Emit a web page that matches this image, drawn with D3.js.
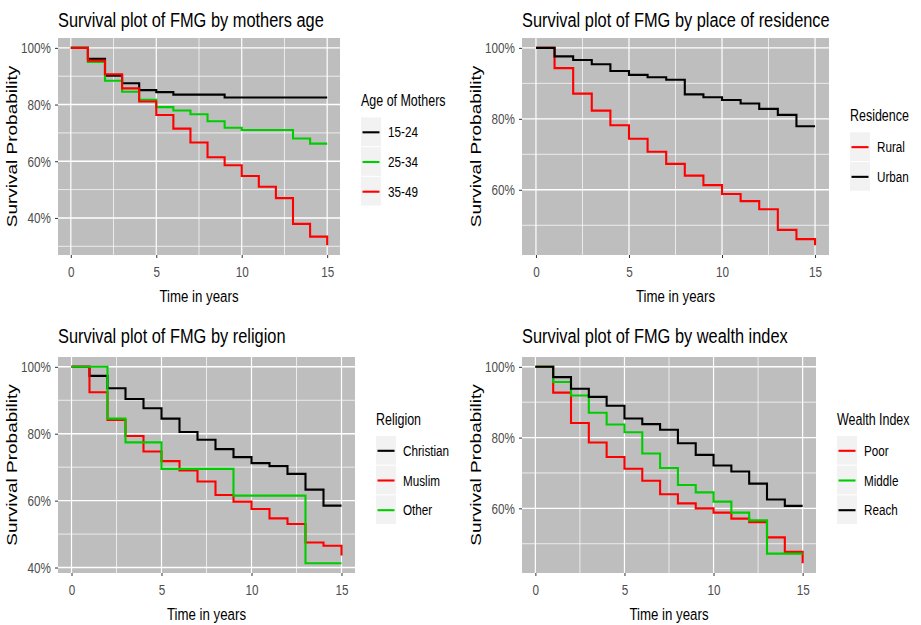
<!DOCTYPE html>
<html>
<head>
<meta charset="utf-8">
<script src="https://cdn.jsdelivr.net/npm/d3@7"></script>
<style>
  body { margin: 0; background: #fff; }
  text { font-family: 'Liberation Sans', Arial, sans-serif; }
</style>
</head>
<body>
<div id="container"></div>
<script>
// time axis (years) - every curve has one value per year, step after
const years = [0, 1, 2, 3, 4, 5, 6, 7, 8, 9, 10, 11, 12, 13, 14, 15];

// survival %, by mothers age
const ageGroups = ['15-24', '25-34', '35-49'];
const age1524 = [100, 96.1, 90.2, 87.5, 85.1, 84.4, 83.5, 83.5, 83.5, 82.5, 82.5, 82.5, 82.5, 82.5, 82.5, 82.5];
const age2534 = [100, 95.0, 88.4, 84.5, 81.7, 79.1, 77.9, 76.6, 74.1, 71.8, 71.0, 71.0, 71.0, 68.0, 66.2, 66.2];
const age3549 = [100, 95.5, 90.7, 85.7, 81.1, 76.3, 71.5, 66.6, 61.4, 58.6, 54.8, 51.0, 47.0, 37.9, 33.4, 30.4];

// by place of residence
const residence = ['Rural', 'Urban'];
const rural = [100, 94.3, 87.1, 82.3, 78.2, 74.4, 70.7, 67.3, 64.0, 61.3, 58.8, 56.8, 54.5, 48.7, 46.1, 44.4];
const urban = [100, 97.6, 96.6, 95.4, 93.5, 92.4, 91.7, 91.0, 86.9, 86.1, 85.3, 84.3, 82.8, 81.1, 77.9, 77.9];

// by religion
const religions = ['Christian', 'Muslim', 'Other'];
const christian = [100, 97.3, 93.6, 90.4, 87.6, 84.5, 80.5, 78.2, 75.4, 73.0, 71.2, 70.3, 68.0, 63.3, 58.5, 58.5];
const muslim = [100, 92.4, 84.1, 79.3, 74.7, 71.8, 69.0, 65.7, 61.7, 59.7, 57.5, 54.7, 53.0, 47.5, 46.5, 43.6];
const other = [100, 100, 84.5, 77.4, 77.4, 69.5, 69.5, 69.5, 69.5, 61.5, 61.5, 61.5, 61.5, 41.3, 41.3, 41.3];

// by wealth index
const wealth = ['Poor', 'Middle', 'Reach'];
const poor = [100, 92.7, 84.1, 78.6, 74.5, 71.2, 67.8, 64.0, 61.4, 60.0, 58.8, 57.1, 56.1, 51.8, 47.7, 44.5];
const middle = [100, 95.7, 91.9, 87.0, 83.7, 81.5, 75.5, 71.4, 66.6, 64.5, 61.9, 58.8, 56.6, 47.2, 47.2, 47.2];
const reach = [100, 97.1, 93.8, 91.5, 89.0, 85.4, 83.8, 82.2, 78.4, 75.1, 72.1, 70.4, 67.0, 62.5, 60.7, 60.7];

const xTicks = [0, 5, 10, 15];

const RED = '#FF0000', GREEN = '#00CD00', BLACK = '#000000';

const panels = [
    { title: 'Survival plot of FMG by mothers age', legend: 'Age of Mothers', keys: ageGroups,
      series: [age1524, age2534, age3549], colors: [BLACK, GREEN, RED], box: [58, 38, 340, 255], titleY: 26.7 },
    { title: 'Survival plot of FMG by place of residence', legend: 'Residence', keys: residence,
      series: [rural, urban], colors: [RED, BLACK], box: [522, 38, 829, 255], titleY: 26.7 },
    { title: 'Survival plot of FMG by religion', legend: 'Religion', keys: religions,
      series: [christian, muslim, other], colors: [BLACK, RED, GREEN], box: [58, 357, 355, 573], titleY: 343 },
    { title: 'Survival plot of FMG by wealth index', legend: 'Wealth Index', keys: wealth,
      series: [poor, middle, reach], colors: [RED, GREEN, BLACK], box: [522, 357, 816, 573], titleY: 343 }
];

// the reference image is squeezed sideways, so is its lettering
const SX = 0.78;

const svg = d3.select('#container')
    .append('svg')
        .attr('width', 921)
        .attr('height', 625);

svg.append('rect').attr('width', 921).attr('height', 625).style('fill', '#fff');

function addText(g, x, y, s, size, anchor, color, rotate) {
    return g.append('text')
        .attr('transform', `translate(${x},${y}) scale(${SX},1)` + (rotate ? ' rotate(-90)' : ''))
        .attr('text-anchor', anchor)
        .style('font-size', size + 'px')
        .style('fill', color)
        .text(s);
}

panels.forEach((p) => {
    const [left, top, right, bottom] = p.box;
    const g = svg.append('g');

    const xScale = d3.scaleLinear().domain([-0.75, 15.75]).range([left, right]);
    const minV = d3.min(p.series, (s) => d3.min(s)) / 100;
    const pad = (1 - minV) * 0.05;
    const yScale = d3.scaleLinear().domain([minV - pad, 1 + pad]).range([bottom, top]);
    const [y0, y1] = yScale.domain();

    const yMajor = [0.2, 0.4, 0.6, 0.8, 1.0].filter((v) => v >= y0 && v <= y1);
    const yMinor = [0.1, 0.3, 0.5, 0.7, 0.9, 1.1].filter((v) => v >= y0 && v <= y1);
    const xMinor = [2.5, 7.5, 12.5];

    // panel + grid
    g.append('rect')
        .attr('x', left).attr('y', top)
        .attr('width', right - left).attr('height', bottom - top)
        .style('fill', '#BEBEBE');

    g.selectAll('.ymin').data(yMinor).enter().append('line')
        .attr('x1', left).attr('x2', right)
        .attr('y1', (d) => yScale(d)).attr('y2', (d) => yScale(d))
        .style('stroke', '#fff').style('stroke-width', 0.7);
    g.selectAll('.xmin').data(xMinor).enter().append('line')
        .attr('y1', top).attr('y2', bottom)
        .attr('x1', (d) => xScale(d)).attr('x2', (d) => xScale(d))
        .style('stroke', '#fff').style('stroke-width', 0.7);
    g.selectAll('.ymaj').data(yMajor).enter().append('line')
        .attr('x1', left).attr('x2', right)
        .attr('y1', (d) => yScale(d)).attr('y2', (d) => yScale(d))
        .style('stroke', '#fff').style('stroke-width', 1.4);
    g.selectAll('.xmaj').data(xTicks).enter().append('line')
        .attr('y1', top).attr('y2', bottom)
        .attr('x1', (d) => xScale(d)).attr('x2', (d) => xScale(d))
        .style('stroke', '#fff').style('stroke-width', 1.2);

    // axes
    const xAxis = d3.axisBottom(xScale).tickValues(xTicks).tickSize(3).tickPadding(8.5);
    const yAxis = d3.axisLeft(yScale).tickValues(yMajor).tickSize(3).tickPadding(4)
                    .tickFormat(d3.format('.0%'));

    g.append('g')
        .attr('transform', 'translate(0,' + bottom + ')')
        .call(xAxis)
        .call((a) => a.select('.domain').remove())
        .call((a) => a.selectAll('line').style('stroke', '#333'))
        .call((a) => a.selectAll('text')
            .attr('transform', `scale(${SX},1)`)
            .style('font-size', '15px').style('fill', '#4D4D4D')
            .style('font-family', "'Liberation Sans', Arial, sans-serif"));

    g.append('g')
        .attr('transform', 'translate(' + left + ',0)')
        .call(yAxis)
        .call((a) => a.select('.domain').remove())
        .call((a) => a.selectAll('line').style('stroke', '#333'))
        .call((a) => a.selectAll('text')
            .attr('x', -7 / SX)
            .attr('transform', `scale(${SX},1)`)
            .style('font-size', '15px').style('fill', '#4D4D4D')
            .style('font-family', "'Liberation Sans', Arial, sans-serif"));

    // survival curves
    const line = d3.line()
        .x((d) => xScale(d[0]))
        .y((d) => yScale(d[1] / 100))
        .curve(d3.curveStepAfter);

    p.series.forEach((s, i) => {
        g.append('path')
            .datum(years.map((t, j) => [t, s[j]]))
            .attr('d', line)
            .style('fill', 'none')
            .style('stroke', p.colors[i])
            .style('stroke-width', 2.1);
    });

    // titles
    addText(g, left, p.titleY, p.title, 21, 'start', '#000');
    addText(g, (left + right) / 2, bottom + 46.5, 'Time in years', 17, 'middle', '#000');
    addText(g, left - 41.5, (top + bottom) / 2, 'Survival Probability', 19, 'middle', '#000', true);

    // legend
    const keyH = 29.7;
    const lx = right + 21;
    const lTop = (top + bottom) / 2 + 3.5 - (24 + p.keys.length * keyH) / 2;
    addText(g, lx, lTop + 13, p.legend, 16, 'start', '#000');

    p.keys.forEach((k, i) => {
        const ky = lTop + 24 + i * keyH;
        g.append('rect')
            .attr('x', lx).attr('y', ky)
            .attr('width', 20).attr('height', keyH - 1)
            .style('fill', '#F2F2F2');
        g.append('line')
            .attr('x1', lx + 1.5).attr('x2', lx + 18.5)
            .attr('y1', ky + keyH / 2).attr('y2', ky + keyH / 2)
            .style('stroke', p.colors[i])
            .style('stroke-width', 2.1);
        addText(g, lx + 27, ky + keyH / 2 + 5, k, 15, 'start', '#000');
    });
});
</script>
</body>
</html>
